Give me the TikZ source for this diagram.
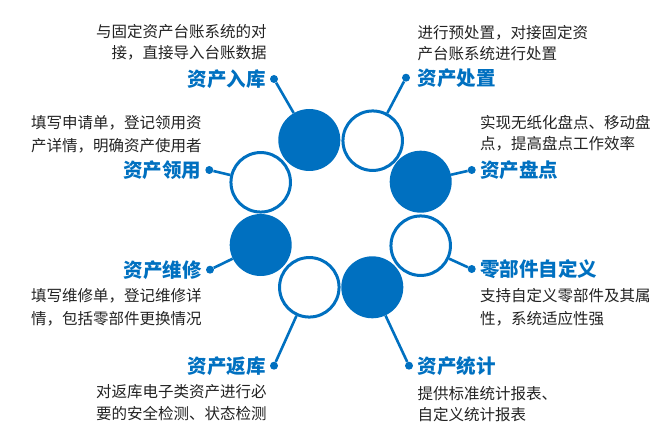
\documentclass[tikz,border=0pt]{standalone}
\usepackage{fontspec}
\setmainfont{Noto Sans CJK SC}
\definecolor{blu}{HTML}{0070C0}
\definecolor{txt}{HTML}{222222}
\begin{document}
\begin{tikzpicture}[x=1pt,y=-1pt,
  full/.style={circle, fill=blu, minimum size=62pt, inner sep=0pt},
  hollow/.style={circle, draw=blu, line width=3pt, fill=white, minimum size=59.5pt, inner sep=0pt},
  dotn/.style={circle, fill=blu, minimum size=8pt, inner sep=0pt},
  conn/.style={draw=blu, line width=2.6pt},
  ttl/.style={text=blu, font=\fontsize{19.5}{22}\selectfont\bfseries, inner sep=0pt},
  desc/.style={text=txt, font=\fontsize{15.5}{22}\selectfont, inner sep=0pt},
]
\path[use as bounding box] (0,0) rectangle (671,446);

% ring of circles
\node[full]   (c1) at (309.3,140.0) {};
\node[hollow] (c2) at (372.7,140.7) {};
\node[full]   (c3) at (420.7,181.7) {};
\node[hollow] (c4) at (420.7,245.7) {};
\node[full]   (c5) at (372.3,287.3) {};
\node[hollow] (c6) at (309.3,287.3) {};
\node[full]   (c7) at (260.7,245.0) {};
\node[hollow] (c8) at (260.7,182.3) {};

% dots
\node[dotn] (p1) at (274.0,79.0) {};
\node[dotn] (p2) at (406.0,77.7) {};
\node[dotn] (p3) at (471.7,170.0) {};
\node[dotn] (p4) at (471.7,269.0) {};
\node[dotn] (p5) at (409.0,365.7) {};
\node[dotn] (p6) at (274.0,365.7) {};
\node[dotn] (p7) at (210.0,269.7) {};
\node[dotn] (p8) at (209.3,170.0) {};

% connectors
\draw[conn] (p1) -- (c1);
\draw[conn] (p2) -- (c2);
\draw[conn] (p3) -- (c3);
\draw[conn] (p4) -- (c4);
\draw[conn] (p5) -- (c5);
\draw[conn] (p6) -- (c6);
\draw[conn] (p7) -- (c7);
\draw[conn] (p8) -- (c8);

% left blocks
\node[ttl, anchor=east]  (t1)  at (265.7,79.0)  {资产入库};
\node[desc, anchor=east] (d1a) at (266.7,31.7)  {与固定资产台账系统的对};
\node[desc, anchor=east] (d1b) at (266.7,52.7)  {接，直接导入台账数据};

\node[ttl, anchor=east]  (t8)  at (201.5,170.0) {资产领用};
\node[desc, anchor=east] (d8a) at (201.7,122.7) {填写申请单，登记领用资};
\node[desc, anchor=east] (d8b) at (201.7,145.7) {产详情，明确资产使用者};

\node[ttl, anchor=east]  (t7)  at (201.7,269.7) {资产维修};
\node[desc, anchor=east] (d7a) at (201.7,295.7) {填写维修单，登记维修详};
\node[desc, anchor=east] (d7b) at (201.7,318.7) {情，包括零部件更换情况};

\node[ttl, anchor=east]  (t6)  at (265.7,365.7) {资产返库};
\node[desc, anchor=east] (d6a) at (266.7,391.3) {对返库电子类资产进行必};
\node[desc, anchor=east] (d6b) at (266.7,413.7) {要的安全检测、状态检测};

% right blocks
\node[ttl, anchor=west]  (t2)  at (417.3,77.7)  {资产处置};
\node[desc, anchor=west] (d2a) at (417.3,32.3)  {进行预处置，对接固定资};
\node[desc, anchor=west] (d2b) at (417.3,53.3)  {产台账系统进行处置};

\node[ttl, anchor=west]  (t3)  at (480.0,170.0) {资产盘点};
\node[desc, anchor=west] (d3a) at (480.0,122.7) {实现无纸化盘点、移动盘};
\node[desc, anchor=west] (d3b) at (480.0,144.0) {点，提高盘点工作效率};

\node[ttl, anchor=west]  (t4)  at (480.0,269.0) {零部件自定义};
\node[desc, anchor=west] (d4a) at (480.0,295.7) {支持自定义零部件及其属};
\node[desc, anchor=west] (d4b) at (480.0,318.7) {性，系统适应性强};

\node[ttl, anchor=west]  (t5)  at (417.3,365.7) {资产统计};
\node[desc, anchor=west] (d5a) at (417.3,393.7) {提供标准统计报表、};
\node[desc, anchor=west] (d5b) at (417.3,414.7) {自定义统计报表};
\end{tikzpicture}
\end{document}
